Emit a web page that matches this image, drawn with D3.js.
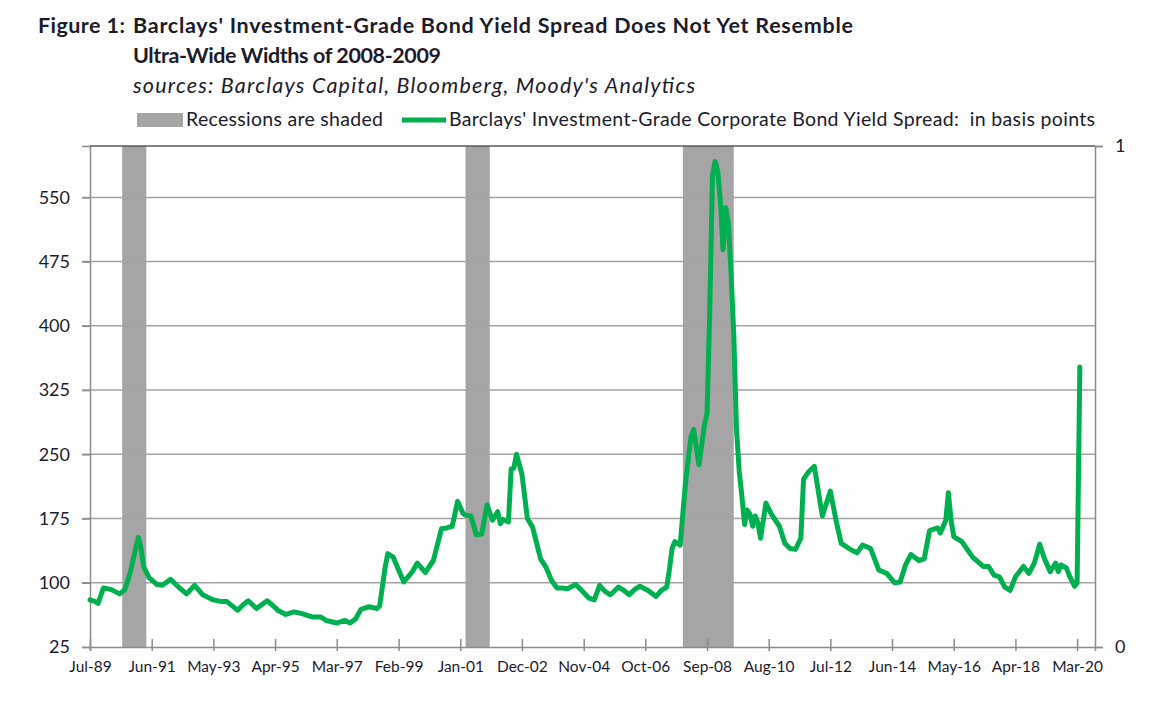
<!DOCTYPE html>
<meta charset="utf-8">
<style>
body { margin: 0; background: #fff; font-family: 'Lato', sans-serif; }
text { fill: #1c1c2c; }
</style>
<body>
<script src="https://d3js.org/d3.v7.min.js"></script>
<script>
// monthly readings of the spread, basis points
var months = ["1989-07","1989-09","1989-10","1989-12","1990-03","1990-06","1990-08","1990-10","1990-12","1991-01",
  "1991-02","1991-03","1991-05","1991-08","1991-10","1992-01","1992-04","1992-07","1992-10","1993-01",
  "1993-05","1993-08","1993-10","1993-12","1994-02","1994-04","1994-06","1994-09","1995-01","1995-03",
  "1995-05","1995-08","1995-11","1996-02","1996-06","1996-09","1996-11","1997-03","1997-06","1997-08",
  "1997-10","1997-12","1998-03","1998-06","1998-07","1998-09","1998-10","1998-12","1999-02","1999-04",
  "1999-07","1999-09","1999-12","2000-03","2000-06","2000-08","2000-10","2000-12","2001-02","2001-03",
  "2001-05","2001-07","2001-09","2001-11","2002-01","2002-03","2002-04","2002-05","2002-07","2002-08",
  "2002-09","2002-10","2002-12","2003-02","2003-04","2003-07","2003-09","2003-11","2004-01","2004-03",
  "2004-05","2004-08","2004-10","2005-01","2005-03","2005-05","2005-07","2005-09","2005-12","2006-02",
  "2006-04","2006-06","2006-08","2006-11","2007-02","2007-04","2007-06","2007-07","2007-08","2007-09",
  "2007-11","2007-12","2008-01","2008-03","2008-04","2008-06","2008-08","2008-09","2008-10","2008-11",
  "2008-12","2009-01","2009-02","2009-03","2009-04","2009-05","2009-06","2009-07","2009-08","2009-09",
  "2009-10","2009-11","2009-12","2010-01","2010-02","2010-03","2010-04","2010-05","2010-07","2010-09",
  "2010-12","2011-02","2011-04","2011-06","2011-08","2011-09","2011-11","2012-01","2012-04","2012-07",
  "2012-09","2012-11","2013-01","2013-03","2013-05","2013-07","2013-10","2014-01","2014-04","2014-07",
  "2014-09","2014-11","2015-01","2015-04","2015-06","2015-08","2015-11","2015-12","2016-02","2016-03",
  "2016-04","2016-05","2016-08","2016-12","2017-04","2017-06","2017-08","2017-10","2017-12","2018-02",
  "2018-04","2018-07","2018-09","2018-11","2019-01","2019-03","2019-05","2019-07","2019-08","2019-09",
  "2019-11","2019-12","2020-02","2020-03","2020-04"];
var spread = [80,78,76,94,92,87,92,112,140,153,
  140,119,106,98,97,104,95,87,97,86,
  80,78,78,73,68,74,79,70,79,74,
  68,63,66,64,60,60,56,53,56,53,
  58,69,72,70,73,118,134,130,115,101,
  112,123,112,126,163,164,166,195,181,179,
  178,156,157,191,173,183,169,174,171,233,
  234,250,227,175,165,128,118,103,94,94,
  93,98,92,82,80,97,90,86,95,91,
  86,92,96,91,84,91,95,115,140,148,
  144,181,217,270,279,238,283,298,415,575,
  592,580,543,489,538,520,460,390,279,230,
  201,168,185,180,166,178,170,152,193,180,
  166,146,140,139,152,221,230,236,178,207,
  174,146,142,138,135,144,140,115,111,100,
  101,121,133,126,128,161,164,158,173,205,
  173,154,148,130,119,119,109,107,95,91,
  107,119,111,123,145,127,113,123,113,121,
  117,109,96,100,352];

var recessionStart = ["1990-07", "2001-03", "2007-12"];
var recessionEnd = ["1991-04", "2001-12", "2009-07"];

var xTickLabels = ["Jul-89","Jun-91","May-93","Apr-95","Mar-97","Feb-99","Jan-01","Dec-02","Nov-04",
  "Oct-06","Sep-08","Aug-10","Jul-12","Jun-14","May-16","Apr-18","Mar-20"];
var yTicks = [25, 100, 175, 250, 325, 400, 475, 550];
var rightTicks = [0, 1];

var width = 1154, height = 705;
var plotL = 90, plotR = 1095, plotT = 146, plotB = 647;

var parseMonth = d3.timeParse("%Y-%m");
var parseTick = d3.timeParse("%b-%y");

var data = months.map((m, i) => ({date: parseMonth(m), value: spread[i]}));

var x = d3.scaleTime()
    .domain([parseMonth("1989-07"), new Date(2020, 8, 20)])
    .range([plotL, plotR]);
var y = d3.scaleLinear().domain([25, 610]).range([plotB, plotT]);
var y2 = d3.scaleLinear().domain([0, 1]).range([plotB, plotT]);

var svg = d3.select("body").append("svg")
    .attr("width", width)
    .attr("height", height);

// recession bars
svg.append("g").selectAll("rect")
  .data(recessionStart)
  .join("rect")
    .attr("x", d => x(parseMonth(d)))
    .attr("width", (d, i) => x(parseMonth(recessionEnd[i])) - x(parseMonth(d)))
    .attr("y", plotT)
    .attr("height", plotB - plotT)
    .attr("fill", "#a5a5a5");

// gridlines
svg.append("g").selectAll("line")
  .data(yTicks.slice(1))
  .join("line")
    .attr("x1", plotL - 8).attr("x2", plotR)
    .attr("y1", d => y(d)).attr("y2", d => y(d))
    .attr("stroke", "#a3a3a3")
    .attr("stroke-width", 1.5);

// left axis
var yAxis = svg.append("g")
    .attr("transform", `translate(${plotL},0)`)
    .call(d3.axisLeft(y).tickValues(yTicks).tickSize(8).tickPadding(12));
yAxis.select(".domain").attr("stroke", "#8c8c8c").attr("stroke-width", 1.5);
yAxis.selectAll(".tick line").attr("stroke", "#8c8c8c").attr("stroke-width", 1.5);
yAxis.selectAll("text").attr("font-size", 18).attr("font-family", "Lato").attr("fill", "#1c1c2c");

// right axis
var y2Axis = svg.append("g")
    .attr("transform", `translate(${plotR},0)`)
    .call(d3.axisRight(y2).tickValues(rightTicks).tickFormat(d3.format("d")).tickSize(8).tickPadding(12));
y2Axis.select(".domain").attr("stroke", "#8c8c8c").attr("stroke-width", 1.5);
y2Axis.selectAll(".tick line").attr("stroke", "#8c8c8c").attr("stroke-width", 1.5);
y2Axis.selectAll("text").attr("font-size", 18).attr("font-family", "Lato").attr("fill", "#1c1c2c");

// top border
svg.append("line")
    .attr("x1", plotL).attr("x2", plotR)
    .attr("y1", plotT).attr("y2", plotT)
    .attr("stroke", "#5a5a5a").attr("stroke-width", 1.5);

// bottom axis with crossing ticks
var xAxis = svg.append("g")
    .attr("transform", `translate(0,${plotB})`)
    .call(d3.axisBottom(x).tickValues(xTickLabels.map(parseTick))
      .tickFormat(d3.timeFormat("%b-%y")).tickSize(4).tickPadding(10));
xAxis.select(".domain").attr("stroke", "#8c8c8c").attr("stroke-width", 1.5);
xAxis.selectAll(".tick line").attr("y1", -8).attr("stroke", "#8c8c8c").attr("stroke-width", 1.5);
xAxis.selectAll("text").attr("font-size", 15.5).attr("font-family", "Lato").attr("fill", "#1c1c2c");

// spread line
svg.append("path")
    .datum(data)
    .attr("fill", "none")
    .attr("stroke", "#00b050")
    .attr("stroke-width", 5)
    .attr("stroke-linejoin", "round")
    .attr("stroke-linecap", "round")
    .attr("d", d3.line().x(d => x(d.date)).y(d => y(d.value)));

// titles
svg.append("text").attr("x", 38).attr("y", 33)
    .attr("font-size", 21.5).attr("font-weight", "bold")
    .attr("textLength", 87).text("Figure 1:");
svg.append("text").attr("x", 133).attr("y", 33)
    .attr("font-size", 21.5).attr("font-weight", "bold").attr("textLength", 720)
    .text("Barclays' Investment-Grade Bond Yield Spread Does Not Yet Resemble");
svg.append("text").attr("x", 133).attr("y", 63)
    .attr("font-size", 21.5).attr("font-weight", "bold").attr("textLength", 308)
    .text("Ultra-Wide Widths of 2008-2009");
svg.append("text").attr("x", 133).attr("y", 93)
    .attr("font-size", 21.5).attr("font-style", "italic").attr("textLength", 562)
    .text("sources: Barclays Capital, Bloomberg, Moody's Analytics");

// legend
svg.append("rect").attr("x", 137).attr("y", 113).attr("width", 46).attr("height", 14).attr("fill", "#a5a5a5");
svg.append("text").attr("x", 186).attr("y", 126).attr("font-size", 19.5)
    .attr("textLength", 197).text("Recessions are shaded");
svg.append("line").attr("x1", 402).attr("x2", 446).attr("y1", 120).attr("y2", 120)
    .attr("stroke", "#00b050").attr("stroke-width", 5);
svg.append("text").attr("x", 449).attr("y", 126).attr("font-size", 19.5).attr("textLength", 646)
    .style("white-space", "pre")
    .text("Barclays' Investment-Grade Corporate Bond Yield Spread:  in basis points");
</script>
</body>
